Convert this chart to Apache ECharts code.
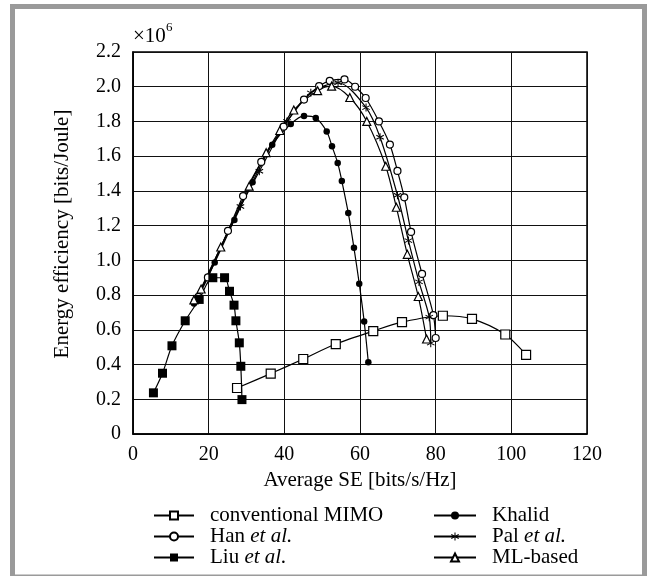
<!DOCTYPE html>
<html><head><meta charset="utf-8">
<script src="https://cdn.jsdelivr.net/npm/echarts@6/dist/echarts.min.js"></script>
<style>html,body{margin:0;padding:0;background:#fff}#c{width:653px;height:576px}</style>
</head><body><div id="c"></div>
<script>
// x: Average SE [bits/s/Hz], y: Energy efficiency [x10^6 bits/Joule]
var xTicks = [0, 20, 40, 60, 80, 100, 120];
var yTicks = [0, 0.2, 0.4, 0.6, 0.8, 1.0, 1.2, 1.4, 1.6, 1.8, 2.0, 2.2];

var mimoSE = [27.5, 36.4, 45.0, 53.6, 63.5, 71.1, 81.9, 89.6, 98.4, 103.9];
var mimoEE = [0.265, 0.348, 0.432, 0.518, 0.593, 0.644, 0.681, 0.663, 0.573, 0.456];

var hanSE = [17.3, 19.8, 25.1, 29.1, 33.9, 39.8, 45.2, 49.2, 52.0, 55.9, 58.7, 61.5, 65.0, 67.9, 69.9, 71.7, 73.5, 76.4, 79.4, 80.0];
var hanEE = [0.79, 0.902, 1.17, 1.37, 1.567, 1.77, 1.926, 2.004, 2.034, 2.042, 2.0, 1.935, 1.80, 1.667, 1.515, 1.363, 1.164, 0.922, 0.685, 0.553];

var liuSE = [5.4, 7.8, 10.3, 13.8, 17.5, 21.1, 24.2, 25.5, 26.7, 27.2, 28.1, 28.5, 28.8];
var liuEE = [0.237, 0.35, 0.508, 0.652, 0.775, 0.90, 0.90, 0.822, 0.742, 0.652, 0.525, 0.39, 0.198];

var khalidSE = [16.1, 21.6, 26.8, 31.6, 36.8, 41.7, 45.2, 48.3, 51.2, 52.6, 54.1, 55.2, 56.9, 58.4, 59.8, 61.1, 62.2];
var khalidEE = [0.752, 0.987, 1.232, 1.45, 1.666, 1.785, 1.832, 1.82, 1.742, 1.657, 1.561, 1.457, 1.273, 1.072, 0.866, 0.648, 0.413];

var palSE = [16.4, 28.4, 33.4, 40.7, 47.0, 54.2, 61.6, 65.3, 69.9, 72.8, 75.6, 78.3, 78.7];
var palEE = [0.765, 1.31, 1.513, 1.80, 1.965, 2.023, 1.88, 1.709, 1.375, 1.114, 0.876, 0.673, 0.523];

var mlSE = [16.1, 18.0, 23.2, 30.7, 35.2, 38.8, 42.5, 48.8, 52.5, 57.3, 61.8, 66.8, 69.6, 72.5, 75.4, 77.6];
var mlEE = [0.772, 0.835, 1.077, 1.427, 1.62, 1.748, 1.866, 1.977, 2.003, 1.938, 1.80, 1.542, 1.306, 1.035, 0.792, 0.547];

function zip(a, b) { return a.map(function (v, i) { return [v, b[i]]; }); }

var FONT = '"Liberation Serif", "DejaVu Serif", serif';
var asterisk = 'path://M-0.6,-5L0.6,-5L0.6,5L-0.6,5Z M4.03,3.02L4.63,1.98L-4.03,-3.02L-4.63,-1.98Z M-4.63,1.98L-4.03,3.02L4.63,-1.98L4.03,-3.02Z';

function ser(name, data, symbol, size, filled) {
  return {
    name: name, type: 'line', data: data, symbol: symbol, symbolSize: size,
    smooth: 0.3, showAllSymbol: true,
    lineStyle: { color: '#000', width: 1.2 },
    itemStyle: { color: filled ? '#000' : '#fff', borderColor: '#000', borderWidth: filled ? 0 : 1.2 },
    emphasis: { disabled: true }, animation: false
  };
}

var legendText = { fontFamily: FONT, fontSize: 21, lineHeight: 20.5, color: '#000', padding: [0, 0, 0, 11],
  rich: { i: { fontFamily: FONT, fontSize: 21, lineHeight: 20.5, fontStyle: 'italic', color: '#000' } } };
function legendFmt(n) {
  var m = n.match(/^(.*?)(et al\.)$/);
  return m ? m[1] + '{i|' + m[2] + '}' : n;
}

var chart = echarts.init(document.getElementById('c'), null, { renderer: 'canvas' });
chart.setOption({
  animation: false,
  backgroundColor: '#fff',
  grid: { left: 133, right: 66, top: 52, bottom: 142, show: true, borderColor: '#000', borderWidth: 1.5 },
  xAxis: {
    type: 'value', min: xTicks[0], max: xTicks[xTicks.length - 1], interval: 20,
    name: 'Average SE [bits/s/Hz]', nameLocation: 'middle', nameGap: 26,
    nameTextStyle: { fontFamily: FONT, fontSize: 21, color: '#000' },
    axisLine: { show: true, lineStyle: { color: '#000', width: 1.5 } },
    axisTick: { show: false },
    axisLabel: { fontFamily: FONT, fontSize: 20, color: '#000', margin: 11 },
    splitLine: { show: true, lineStyle: { color: '#111', width: 1 } }
  },
  yAxis: {
    type: 'value', min: yTicks[0], max: yTicks[yTicks.length - 1], interval: 0.2,
    name: 'Energy efficiency [bits/Joule]', nameLocation: 'middle', nameGap: 60, nameRotate: 90,
    nameTextStyle: { fontFamily: FONT, fontSize: 21, color: '#000', padding: [0, 0, 0, 18] },
    axisLine: { show: true, lineStyle: { color: '#000', width: 1.5 } },
    axisTick: { show: false },
    axisLabel: { fontFamily: FONT, fontSize: 20, color: '#000', margin: 12,
      formatter: function (v) { return v === 0 ? '0' : v.toFixed(1); } },
    splitLine: { show: true, lineStyle: { color: '#111', width: 1 } }
  },
  legend: [
    { data: ['conventional MIMO', 'Han et al.', 'Liu et al.'], orient: 'vertical', left: 153, top: 505, height: 90, padding: 0,
      itemWidth: 40, itemHeight: 10, itemGap: 0, textStyle: legendText, formatter: legendFmt, selectedMode: false },
    { data: ['Khalid', 'Pal et al.', 'ML-based'], orient: 'vertical', left: 433, top: 505, height: 90, padding: 0,
      itemWidth: 42, itemHeight: 10, itemGap: 0, textStyle: legendText, formatter: legendFmt, selectedMode: false }
  ],
  graphic: [
    { type: 'rect', shape: { x: 12.5, y: 6.5, width: 632, height: 570.5 }, style: { fill: null, stroke: '#9a9a9a', lineWidth: 5 }, silent: true },
    { type: 'text', left: 133, top: 26, style: { text: '\u00d710', font: '21px ' + FONT, fill: '#000' } },
    { type: 'text', left: 166, top: 21, style: { text: '6', font: '13px ' + FONT, fill: '#000' } }
  ],
  series: [
    ser('conventional MIMO', zip(mimoSE, mimoEE), 'rect', 9, false),
    ser('Han et al.', zip(hanSE, hanEE), 'circle', 7, false),
    ser('Liu et al.', zip(liuSE, liuEE), 'rect', 9, true),
    ser('Khalid', zip(khalidSE, khalidEE), 'circle', 6.5, true),
    ser('Pal et al.', zip(palSE, palEE), asterisk, 8, true),
    ser('ML-based', zip(mlSE, mlEE), 'triangle', 8, false)
  ]
});
</script></body></html>
